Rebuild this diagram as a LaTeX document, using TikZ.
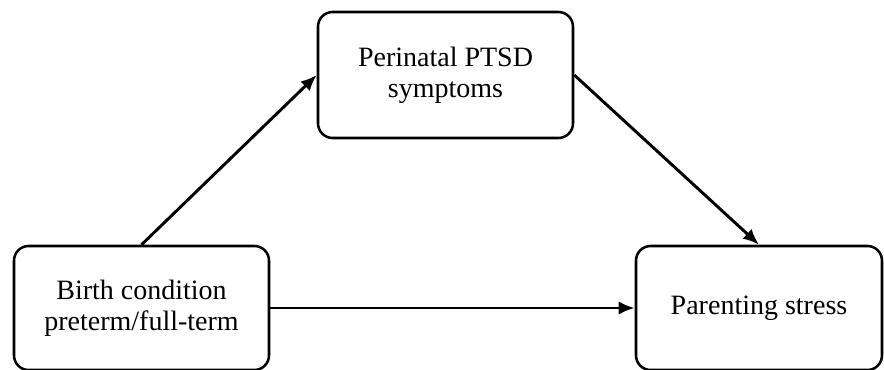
\documentclass[tikz,border=0pt]{standalone}
\usepackage{fontspec}
\setmainfont{Liberation Serif}
\usetikzlibrary{arrows.meta}

\begin{document}
\begin{tikzpicture}[x=0.75pt,y=-0.75pt]
        % Fix the frame of the picture
        \useasboundingbox (0,0) rectangle (884,370);

        % Style of the boxes and the arrows
        \tikzset{
            box/.style={draw, line width=1.9pt, rounded corners=11pt, align=center,
                font=\fontsize{21}{23.5}\selectfont},
            link/.style={line width=2.2pt, -{Latex[length=12pt,width=10pt]}}
        }

        % Place the three boxes
        \node[box, minimum width=255*0.75pt, minimum height=126*0.75pt] (ptsd) at (445.5,75) {Perinatal PTSD\\symptoms};
        \node[box, minimum width=255*0.75pt, minimum height=124*0.75pt] (birth) at (141.5,308) {Birth condition\\preterm/full-term};
        \node[box, minimum width=246*0.75pt, minimum height=124*0.75pt] (stress) at (759,308) {Parenting stress};

        % Connect the boxes
        \foreach \from/\to in {birth.north/ptsd.west, ptsd.east/stress.north, birth.east/stress.west}{
            \draw[link] (\from) -- (\to);
        }
    \end{tikzpicture}
\end{document}
